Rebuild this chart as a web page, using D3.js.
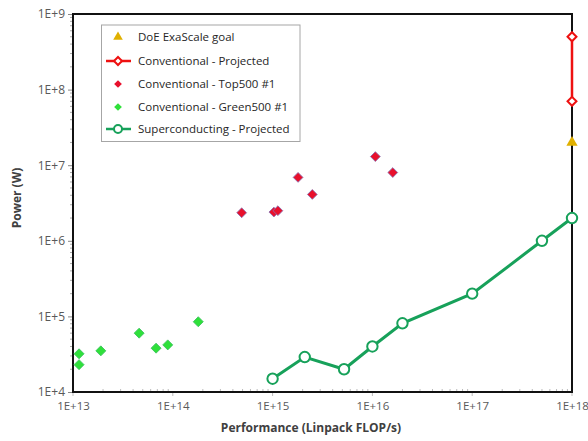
<!DOCTYPE html>
<html><head><meta charset="utf-8">
<script src="https://cdn.jsdelivr.net/npm/d3@7"></script>
<style>body{margin:0;background:#fff}svg{display:block}text{font-family:"Open Sans","Liberation Sans",sans-serif}</style>
</head><body><svg id="c" width="588" height="441"></svg>
<script>
const xTickLabels = ["1E+13","1E+14","1E+15","1E+16","1E+17","1E+18"];
const yTickLabels = ["1E+4","1E+5","1E+6","1E+7","1E+8","1E+9"];
const doeX = [1e18], doeY = [2e7];
const convProjX = [1e18, 1e18], convProjY = [5e8, 7e7];
const top500X = [4.9e14, 1.03e15, 1.13e15, 1.8e15, 2.5e15, 1.07e16, 1.6e16];
const top500Y = [2.35e6, 2.4e6, 2.5e6, 6.9e6, 4.1e6, 1.3e7, 8.0e6];
const green500X = [1.15e13, 1.15e13, 1.9e13, 4.6e13, 6.8e13, 8.9e13, 1.8e14];
const green500Y = [3.2e4, 2.3e4, 3.5e4, 6.0e4, 3.8e4, 4.2e4, 8.5e4];
const scX = [1e15, 2.1e15, 5.2e15, 1e16, 2e16, 1e17, 5e17, 1e18];
const scY = [1.5e4, 2.9e4, 2e4, 4e4, 8.1e4, 2e5, 1e6, 2e6];
const legendLabels = ["DoE ExaScale goal","Conventional - Projected","Conventional - Top500 #1","Conventional - Green500 #1","Superconducting - Projected"];

const svg = d3.select("#c");
const L=73, R=572, T=14, B=392;
const x = d3.scaleLog().domain([1e13,1e18]).range([L,R]);
const y = d3.scaleLog().domain([1e4,1e9]).range([B,T]);
const zip = (a,b)=>a.map((v,i)=>[v,b[i]]);

const minors = [];
for (let e=13;e<18;e++) for (let m=2;m<10;m++) minors.push(m*Math.pow(10,e));
const yMinors = [];
for (let e=4;e<9;e++) for (let m=2;m<10;m++) yMinors.push(m*Math.pow(10,e));

const gx = svg.append("g").attr("transform",`translate(0,${B})`)
  .call(d3.axisBottom(x).tickValues(xTickLabels.map(Number)).tickFormat((d,i)=>xTickLabels[i]).tickSize(0).tickPadding(10));
gx.select(".domain").remove();
gx.selectAll("text").attr("fill","#595959").style("font-size","11.5px");
const gy = svg.append("g").attr("transform",`translate(${L},0)`)
  .call(d3.axisLeft(y).tickValues(yTickLabels.map(Number)).tickFormat((d,i)=>yTickLabels[i]).tickSize(5).tickPadding(3));
gy.select(".domain").remove();
gy.selectAll("line").attr("stroke","#888");
gy.selectAll("text").attr("fill","#595959").style("font-size","12px");

svg.append("g").selectAll("line").data(yMinors).join("line")
  .attr("x1",L-3).attr("x2",L).attr("y1",d=>y(d)).attr("y2",d=>y(d)).attr("stroke","#aaa");
svg.append("g").selectAll("line").data(minors).join("line")
  .attr("y1",B-3).attr("y2",B).attr("x1",d=>x(d)).attr("x2",d=>x(d)).attr("stroke","#bbb");
svg.append("g").selectAll("line").data(xTickLabels.map(Number)).join("line")
  .attr("y1",B).attr("y2",B+4).attr("x1",d=>x(d)).attr("x2",d=>x(d)).attr("stroke","#bbb");

svg.append("rect").attr("x",L).attr("y",T).attr("width",R-L).attr("height",B-T)
  .attr("fill","none").attr("stroke","#111").attr("stroke-width",2);

svg.append("text").attr("x",311).attr("y",432).attr("text-anchor","middle")
  .style("font-size","12px").style("font-weight","bold").attr("fill","#404040").text("Performance (Linpack FLOP/s)");
svg.append("text").attr("transform",`translate(21,198) rotate(-90)`).attr("text-anchor","middle")
  .style("font-size","12px").style("font-weight","bold").attr("fill","#404040").text("Power (W)");

const line = d3.line().x(d=>x(d[0])).y(d=>y(d[1]));
const diam = s=>d3.symbol().type(d3.symbolSquare).size(s)();

svg.append("g").selectAll("path").data(zip(green500X,green500Y)).join("path")
  .attr("d",diam(50)).attr("transform",d=>`translate(${x(d[0])},${y(d[1])}) rotate(45)`)
  .attr("fill","#2fe03a").attr("stroke","#3cc060").attr("stroke-width",0.8);
svg.append("g").selectAll("path").data(zip(top500X,top500Y)).join("path")
  .attr("d",diam(48)).attr("transform",d=>`translate(${x(d[0])},${y(d[1])}) rotate(45)`)
  .attr("fill","#e8102c").attr("stroke","#8a6fb0").attr("stroke-width",0.8);
svg.append("path").datum(zip(scX,scY)).attr("d",line).attr("fill","none").attr("stroke","#17a15a").attr("stroke-width",3);
svg.append("g").selectAll("circle").data(zip(scX,scY)).join("circle")
  .attr("cx",d=>x(d[0])).attr("cy",d=>y(d[1])).attr("r",5.2).attr("fill","#fff").attr("stroke","#17a15a").attr("stroke-width",2);
svg.append("path").datum(zip(convProjX,convProjY)).attr("d",line).attr("fill","none").attr("stroke","#ee1111").attr("stroke-width",2.5);
svg.append("g").selectAll("path").data(zip(convProjX,convProjY)).join("path")
  .attr("d",diam(40)).attr("transform",d=>`translate(${x(d[0])},${y(d[1])}) rotate(45)`)
  .attr("fill","#fff").attr("stroke","#ee1111").attr("stroke-width",2);
svg.append("g").selectAll("path").data(zip(doeX,doeY)).join("path")
  .attr("d",d3.symbol().type(d3.symbolTriangle).size(55)())
  .attr("transform",d=>`translate(${x(d[0])},${y(d[1])})`).attr("fill","#e0b000");

const lg = svg.append("g");
lg.append("rect").attr("x",101.5).attr("y",25).attr("width",198.5).attr("height",116.5)
  .attr("fill","#fff").attr("stroke","#a6a6a6").attr("stroke-width",1);
const ly = [37, 61, 84, 107, 129];
lg.selectAll("text").data(legendLabels).join("text").attr("x",138).attr("y",(d,i)=>ly[i]+4)
  .style("font-size","11.5px").attr("fill","#262626").text(d=>d);
const mx = 118;
lg.append("path").attr("d",d3.symbol().type(d3.symbolTriangle).size(40)()).attr("transform",`translate(${mx},${ly[0]})`).attr("fill","#e0b000");
lg.append("line").attr("x1",106).attr("x2",131).attr("y1",ly[1]).attr("y2",ly[1]).attr("stroke","#ee1111").attr("stroke-width",2.5);
lg.append("path").attr("d",diam(32)).attr("transform",`translate(${mx},${ly[1]}) rotate(45)`).attr("fill","#fff").attr("stroke","#ee1111").attr("stroke-width",2);
lg.append("path").attr("d",diam(30)).attr("transform",`translate(${mx},${ly[2]}) rotate(45)`).attr("fill","#e8102c");
lg.append("path").attr("d",diam(30)).attr("transform",`translate(${mx},${ly[3]}) rotate(45)`).attr("fill","#2fe03a");
lg.append("line").attr("x1",106).attr("x2",131).attr("y1",ly[4]).attr("y2",ly[4]).attr("stroke","#17a15a").attr("stroke-width",2.5);
lg.append("circle").attr("cx",mx).attr("cy",ly[4]).attr("r",4).attr("fill","#fff").attr("stroke","#17a15a").attr("stroke-width",2);
</script></body></html>
